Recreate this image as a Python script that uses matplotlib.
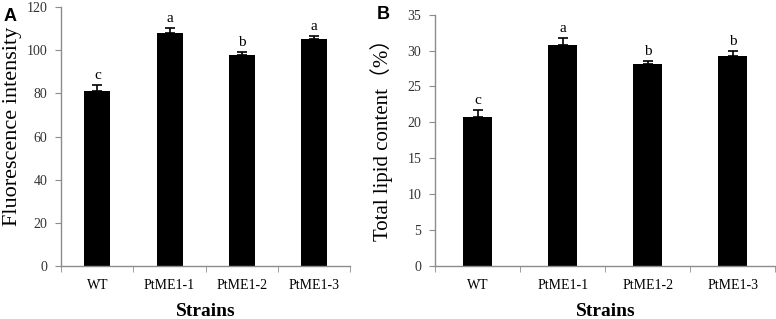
import matplotlib.pyplot as plt
import numpy as np

strains = ['WT', 'PtME1-1', 'PtME1-2', 'PtME1-3']
fluor = [81.0, 107.8, 97.7, 105.4]
fluor_err = [2.8, 2.3, 1.6, 1.2]
lipid = [20.7, 30.8, 28.15, 29.3]
lipid_err = [1.0, 0.9, 0.4, 0.6]
fluor_letters = ['c', 'a', 'b', 'a']
lipid_letters = ['c', 'a', 'b', 'b']

SERIF = ['Liberation Serif', 'Noto Sans CJK SC', 'DejaVu Serif']
plt.rcParams['font.family'] = SERIF
AXIS_GRAY = '#8c8c8c'


def draw_panel(ax, values, errs, letters, ymax, ystep, ylabel, bar_width,
               label_xy, label_size):
    x = np.arange(len(strains))
    ax.bar(x, values, width=bar_width, color='black', zorder=2)
    ax.errorbar(x, values, yerr=[np.zeros(len(errs)), errs], fmt='none',
                ecolor='black', elinewidth=1.2, capsize=3.5, capthick=1.2, zorder=3)
    for xi, v, e, lab in zip(x, values, errs, letters):
        ax.text(xi, v + e + ymax * 0.012, lab, ha='center', va='bottom', fontsize=11)
    ax.set_xlim(-0.5, len(strains) - 0.5)
    ax.set_ylim(0, ymax)
    ax.set_yticks(np.arange(0, ymax + ystep / 2, ystep))
    ax.set_xticks(x)
    ax.set_xticklabels(strains, fontsize=10)
    ax.set_xticks(np.arange(-0.5, len(strains)), minor=True)
    ax.tick_params(axis='x', which='major', length=0, pad=9)
    ax.tick_params(axis='x', which='minor', length=4, color=AXIS_GRAY, direction='out')
    ax.tick_params(axis='y', length=4, color=AXIS_GRAY, labelsize=10, pad=6,
                   labelcolor='#333333')
    for side in ('top', 'right'):
        ax.spines[side].set_visible(False)
    for side in ('left', 'bottom'):
        ax.spines[side].set_color(AXIS_GRAY)
        ax.spines[side].set_linewidth(1.0)
    ax.set_xlabel('Strains', fontsize=14, fontweight='bold', labelpad=8)
    ax.set_ylabel(ylabel, fontsize=label_size)
    ax.yaxis.set_label_coords(*label_xy)


fig = plt.figure(figsize=(7.76, 3.19), dpi=100)
ax_a = fig.add_axes([0.079, 0.166, 0.372, 0.812])
ax_b = fig.add_axes([0.561, 0.166, 0.438, 0.788])

draw_panel(ax_a, fluor, fluor_err, fluor_letters, 120, 20,
           'Fluorescence intensity', 0.36, (-0.135, 0.54), 16)
draw_panel(ax_b, lipid, lipid_err, lipid_letters, 35, 5,
           'Total lipid content（%）', 0.34, (-0.124, 0.52), 15)

fig.text(0.005, 0.975, 'A', fontsize=13, fontweight='bold',
         family='Liberation Sans', va='top')
fig.text(0.486, 0.98, 'B', fontsize=13, fontweight='bold',
         family='Liberation Sans', va='top')

fig.savefig('out.png', dpi=100)
